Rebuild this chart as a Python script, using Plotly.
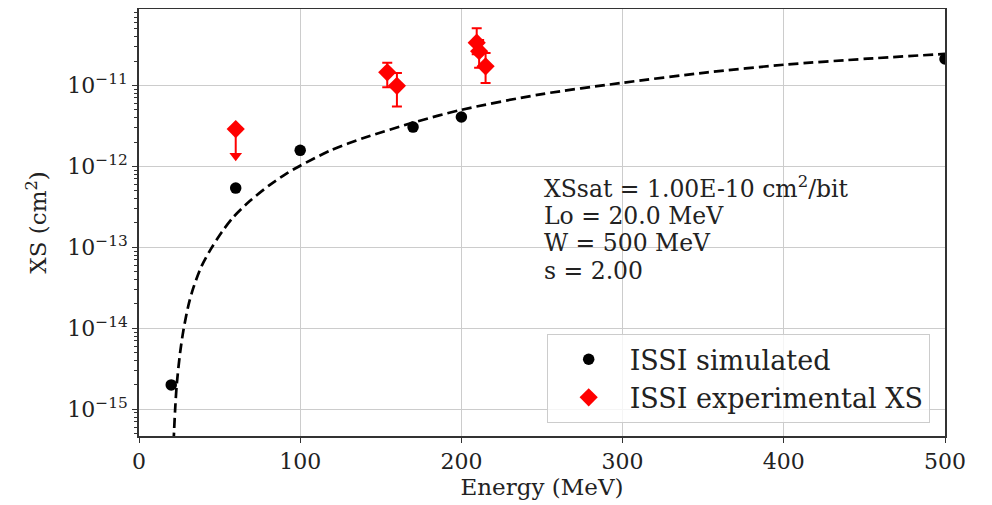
import plotly.graph_objects as go

# --- data ---
fit_energy = [21.0, 22.4, 23.4, 25.5, 27.5, 30.6, 33.7, 38.9, 45.2, 51.4, 58.6, 68.9, 81.4, 91.7,
              100.0, 118.6, 139.3, 170.0, 200.0, 249.0, 298.8, 352.6, 400.0, 452.0, 500.0]
fit_xs = [2.5e-16, 9.8e-16, 2.0e-15, 5.0e-15, 9.3e-15, 1.9e-14, 3.16e-14, 5.9e-14, 1.0e-13, 1.55e-13,
          2.37e-13, 3.76e-13, 5.96e-13, 8.2e-13, 1.02e-12, 1.57e-12, 2.24e-12, 3.47e-12, 5.0e-12, 7.76e-12,
          1.07e-11, 1.45e-11, 1.8e-11, 2.14e-11, 2.45e-11]

sim_energy = [20, 60, 100, 170, 200, 500]
sim_xs = [2.0e-15, 5.4e-13, 1.58e-12, 3.06e-12, 4.07e-12, 2.12e-11]

exp_energy = [154, 160, 209.5, 211, 215]
exp_xs = [1.45e-11, 9.9e-12, 3.37e-11, 2.65e-11, 1.72e-11]
exp_err_plus = [0.45e-11, 0.43e-11, 1.73e-11, 1.0e-11, 0.79e-11]
exp_err_minus = [0.5e-11, 0.44e-11, 0.95e-11, 1.0e-11, 0.65e-11]

lim_energy = [60]
lim_xs = [2.89e-12]
lim_arrow_end = [1.35e-12]

ytick_vals = [1e-15, 1e-14, 1e-13, 1e-12, 1e-11]
ytick_text = ["10<sup>\u221215</sup>", "10<sup>\u221214</sup>", "10<sup>\u221213</sup>",
              "10<sup>\u221212</sup>", "10<sup>\u221211</sup>"]
xtick_vals = [0, 100, 200, 300, 400, 500]

fit_text = ["XSsat = 1.00E-10 cm<sup>2</sup>/bit", "Lo = 20.0 MeV", "W = 500 MeV", "s = 2.00"]

FONT = "DejaVu Serif"
RED = "#ff0000"

fig = go.Figure()

fig.add_trace(go.Scatter(
    x=fit_energy, y=fit_xs, mode="lines", showlegend=False,
    line=dict(color="black", width=2.7, dash="10px,5px", shape="spline", smoothing=0.8),
    hoverinfo="skip"))

fig.add_trace(go.Scatter(
    x=sim_energy, y=sim_xs, mode="markers", name="ISSI simulated",
    marker=dict(color="black", size=11.5, symbol="circle")))

fig.add_trace(go.Scatter(
    x=lim_energy, y=lim_xs, mode="markers", showlegend=False,
    marker=dict(color=RED, size=14, symbol="diamond"),
    error_y=dict(type="data", symmetric=False, array=[0],
                 arrayminus=[lim_xs[i] - lim_arrow_end[i] for i in range(len(lim_xs))],
                 color=RED, thickness=2, width=0)))

fig.add_trace(go.Scatter(
    x=lim_energy, y=lim_arrow_end, mode="markers", showlegend=False,
    marker=dict(color=RED, size=11, symbol="triangle-down")))

fig.add_trace(go.Scatter(
    x=exp_energy, y=exp_xs, mode="markers", name="ISSI experimental XS",
    marker=dict(color=RED, size=14, symbol="diamond"),
    error_y=dict(type="data", symmetric=False, array=exp_err_plus, arrayminus=exp_err_minus,
                 color=RED, thickness=2, width=5)))

line_y = [-12.265, -12.61, -12.95, -13.29]
for t, yy in zip(fit_text, line_y):
    fig.add_annotation(x=250, y=yy, xref="x", yref="y", text=t, showarrow=False,
                       xanchor="left", yanchor="middle", align="left",
                       font=dict(family=FONT, size=23.5, color="#222222"))

axis_common = dict(showline=True, linecolor="#333333", linewidth=1.5, mirror=True,
                   showgrid=True, gridcolor="#cccccc", gridwidth=1.3,
                   ticks="outside", ticklen=5, tickcolor="#333333", tickwidth=1.2,
                   zeroline=False, automargin=False)

# the page body adds an 8px offset; margins compensate so the plot area lands where the reference has it
fig.update_layout(
    width=984, height=497,
    margin=dict(l=131, r=47, t=1, b=69),
    paper_bgcolor="white", plot_bgcolor="white",
    template="none",
    font=dict(family=FONT, size=22, color="#222222"),
    xaxis=dict(range=[0, 500], tickvals=xtick_vals,
               title=dict(text="Energy (MeV)", font=dict(family=FONT, size=23), standoff=6),
               tickfont=dict(family=FONT, size=22), **axis_common),
    yaxis=dict(type="log", range=[-15.33, -10.056], tickvals=ytick_vals, ticktext=ytick_text,
               title=dict(text="XS (cm<sup>2</sup>)", font=dict(family=FONT, size=23), standoff=14),
               tickfont=dict(family=FONT, size=22),
               minor=dict(ticks="outside", ticklen=3, tickcolor="#333333", showgrid=False,
                          dtick="D1"),
               **axis_common),
    legend=dict(x=0.981, y=0.03, xanchor="right", yanchor="bottom",
                bgcolor="rgba(255,255,255,0.8)", bordercolor="#cccccc", borderwidth=1,
                font=dict(family=FONT, size=27, color="#222222"), itemwidth=72,
                tracegroupgap=0),
)

fig.write_html("out.html")
